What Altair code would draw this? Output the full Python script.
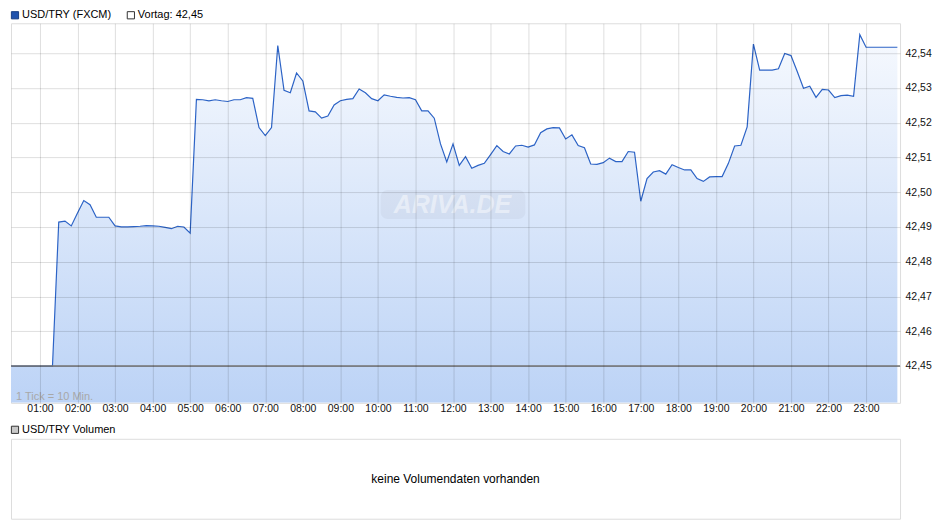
import altair as alt
import pandas as pd

# ---------------- data ----------------
START_MIN = 10      # first tick 00:10
STEP_MIN = 10       # 1 Tick = 10 Min.
prices = [
    42.4500, 42.4500, 42.4500, 42.4500, 42.4500, 42.4500, 42.4500, 42.4500,
    42.4914, 42.4917, 42.4903, 42.4940, 42.4976, 42.4964, 42.4928, 42.4928,
    42.4928, 42.4903, 42.4900, 42.4900, 42.4901, 42.4902, 42.4904, 42.4903,
    42.4902, 42.4899, 42.4895, 42.4902, 42.4900, 42.4882, 42.5267, 42.5266,
    42.5263, 42.5266, 42.5263, 42.5261, 42.5266, 42.5266, 42.5272, 42.5270,
    42.5186, 42.5163, 42.5186, 42.5422, 42.5293, 42.5286, 42.5343, 42.5320,
    42.5234, 42.5231, 42.5213, 42.5219, 42.5251, 42.5263, 42.5267, 42.5269,
    42.5297, 42.5286, 42.5269, 42.5263, 42.5280, 42.5276, 42.5273, 42.5271,
    42.5272, 42.5266, 42.5234, 42.5234, 42.5213, 42.5139, 42.5087, 42.5139,
    42.5077, 42.5102, 42.5069, 42.5077, 42.5083, 42.5108, 42.5134, 42.5117,
    42.5110, 42.5133, 42.5135, 42.5130, 42.5136, 42.5171, 42.5182, 42.5186,
    42.5185, 42.5153, 42.5165, 42.5134, 42.5128, 42.5081, 42.5080, 42.5085,
    42.5098, 42.5088, 42.5088, 42.5117, 42.5115, 42.4974, 42.5039, 42.5058,
    42.5062, 42.5052, 42.5079, 42.5071, 42.5064, 42.5064, 42.5039, 42.5031,
    42.5044, 42.5045, 42.5045, 42.5083, 42.5133, 42.5135, 42.5188, 42.5426,
    42.5351, 42.5351, 42.5351, 42.5355, 42.5399, 42.5393, 42.5347, 42.5299,
    42.5305, 42.5273, 42.5296, 42.5294, 42.5272, 42.5278, 42.5279, 42.5276,
    42.5453, 42.5417, 42.5417, 42.5417, 42.5417, 42.5417, 42.5417,
]
hours = [(START_MIN + i * STEP_MIN) / 60 for i in range(len(prices))]
VORTAG = 42.45
y_ticks = [42.45, 42.46, 42.47, 42.48, 42.49, 42.50, 42.51, 42.52, 42.53, 42.54]
x_ticks = list(range(1, 24))
Y_MIN, Y_MAX = 42.4394, 42.5486
X_MIN, X_MAX = 0.2285, 23.9045

SERIES_LABEL = "USD/TRY (FXCM)"
VORTAG_LABEL = "Vortag: 42,45"
VOL_LABEL = "USD/TRY Volumen"
NO_VOL = "keine Volumendaten vorhanden"
TICK_NOTE = "1 Tick = 10 Min."
WATERMARK = "ARIVA.DE"

df = pd.DataFrame({"t": hours, "price": prices})
one = pd.DataFrame({"_": [0]})

W, H = 890, 380
FONT = "Liberation Sans"
AX_FS = 10.5

x_enc = alt.X(
    "t:Q",
    scale=alt.Scale(domain=[X_MIN, X_MAX], nice=False, zero=False),
    axis=alt.Axis(
        values=x_ticks,
        labelExpr="(datum.value < 10 ? '0' : '') + datum.value + ':00'",
        grid=True, gridColor="#000000", gridOpacity=0.135,
        ticks=False, domain=False, labelPadding=1, labelFontSize=AX_FS,
        labelColor="#111111", labelFlush=False, labelOverlap=False,
        title=None, zindex=1,
    ),
)
y_enc = alt.Y(
    "price:Q",
    scale=alt.Scale(domain=[Y_MIN, Y_MAX], nice=False, zero=False),
    axis=alt.Axis(
        orient="right", values=y_ticks,
        labelExpr="replace(format(datum.value, '.2f'), '.', ',')",
        grid=True, gridColor="#000000", gridOpacity=0.135,
        ticks=False, domain=False, labelPadding=5, labelFontSize=AX_FS,
        labelColor="#111111", labelOverlap=False, title=None, zindex=1,
    ),
)

base = alt.Chart(df)
area = base.mark_area(
    clip=True,
    color=alt.Gradient(
        gradient="linear",
        stops=[alt.GradientStop(color="#f6f9fe", offset=0),
               alt.GradientStop(color="#bcd3f6", offset=1)],
        x1=0, x2=0, y1=0, y2=1,
    ),
).encode(x=x_enc, y=y_enc, y2=alt.datum(Y_MIN))
line = base.mark_line(clip=True, color="#2c63c6", strokeWidth=1.2).encode(x="t:Q", y="price:Q")
vortag = alt.Chart(one).mark_rule(color="#777777", strokeWidth=1.3).encode(y=alt.datum(VORTAG))

note = alt.Chart(one).mark_text(
    text=TICK_NOTE, align="left", baseline="middle", fontSize=11, color="#a8a8a8", font=FONT
).encode(x=alt.value(5), y=alt.value(H - 6))
wm_box = alt.Chart(one).mark_rect(color="#000000", opacity=0.035, cornerRadius=7).encode(
    x=alt.value(370), x2=alt.value(515), y=alt.value(167), y2=alt.value(196))
wm = alt.Chart(one).mark_text(
    text=WATERMARK, align="center", baseline="middle", fontSize=25, fontStyle="italic",
    fontWeight="bold", color="#ffffff", opacity=0.45, font=FONT
).encode(x=alt.value(442), y=alt.value(182))

leg_sq1 = alt.Chart(one).mark_square(size=52, filled=True, color="#1f52ad", stroke="#183f85", strokeWidth=1, opacity=1).encode(
    x=alt.value(4), y=alt.value(-8))
leg_tx1 = alt.Chart(one).mark_text(text=SERIES_LABEL, align="left", baseline="middle", fontSize=11, color="#000000", font=FONT).encode(
    x=alt.value(11), y=alt.value(-8))
leg_sq2 = alt.Chart(one).mark_square(size=52, filled=True, color="#ffffff", stroke="#333333", strokeWidth=1, opacity=1).encode(
    x=alt.value(120), y=alt.value(-8))
leg_tx2 = alt.Chart(one).mark_text(text=VORTAG_LABEL, align="left", baseline="middle", fontSize=11, color="#000000", font=FONT).encode(
    x=alt.value(127), y=alt.value(-8))

main = alt.layer(area, line, vortag, note, wm_box, wm, leg_sq1, leg_tx1, leg_sq2, leg_tx2).properties(width=W, height=H)

VH = 80
vol_sq = alt.Chart(one).mark_square(size=52, filled=True, color="#c8c8c8", stroke="#333333", strokeWidth=1, opacity=1).encode(
    x=alt.value(4), y=alt.value(-9))
vol_tx = alt.Chart(one).mark_text(text=VOL_LABEL, align="left", baseline="middle", fontSize=11, color="#000000", font=FONT).encode(
    x=alt.value(11), y=alt.value(-9))
vol_msg = alt.Chart(one).mark_text(text=NO_VOL, align="center", baseline="middle", fontSize=12, color="#000000", font=FONT).encode(
    x=alt.value(W / 2), y=alt.value(VH / 2))
vol = alt.layer(vol_sq, vol_tx, vol_msg).properties(width=W, height=VH)

chart = alt.vconcat(main, vol, spacing=8).properties(padding=0, background="#ffffff").configure_view(
    stroke="#d6d6d6", strokeWidth=1
).configure(font=FONT)

chart.save("out.html", embed_options={"renderer": "svg", "actions": False})
